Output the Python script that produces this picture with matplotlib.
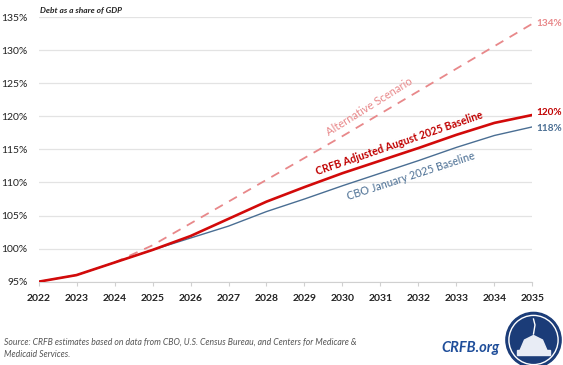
import matplotlib.pyplot as plt
from matplotlib.patches import Circle, Polygon, Rectangle

plt.rcParams['font.family'] = ['Lato', 'DejaVu Sans']

# --- data ---
years = [2022, 2023, 2024, 2025, 2026, 2027, 2028, 2029, 2030, 2031, 2032, 2033, 2034, 2035]
crfb_adjusted = [95.0, 96.0, 97.9, 99.8, 101.9, 104.5, 107.1, 109.3, 111.4, 113.3, 115.2, 117.2, 119.0, 120.2]
cbo_jan_2025 = [95.0, 96.0, 97.9, 99.8, 101.6, 103.4, 105.6, 107.5, 109.5, 111.4, 113.3, 115.3, 117.1, 118.4]
alt_years = [2024, 2025, 2026, 2027, 2028, 2029, 2030, 2031, 2032, 2033, 2034, 2035]
alternative = [97.9, 100.5, 103.8, 107.1, 110.4, 113.7, 117.0, 120.4, 123.8, 127.2, 130.6, 134.0]
y_ticks = [95, 100, 105, 110, 115, 120, 125, 130, 135]

RED = '#D20A0A'
PINK = '#E8888A'
BLUE = '#4A6E93'
TXT = '#222222'

fig = plt.figure(figsize=(5.63, 3.65), dpi=100)
ax = fig.add_axes([0.0684, 0.2282, 0.8774, 0.7252])

ax.plot(alt_years, alternative, color=PINK, lw=1.3, dashes=(5, 4), zorder=2)
ax.plot(years, cbo_jan_2025, color=BLUE, lw=1.0, zorder=3)
ax.plot(years, crfb_adjusted, color=RED, lw=1.9, zorder=4)

ax.set_xlim(2022, 2035)
ax.set_ylim(95, 135)
ax.set_xticks(years)
ax.set_xticklabels([str(y) for y in years], fontsize=7.5, fontweight='bold', color=TXT)
ax.set_yticks(y_ticks)
ax.set_yticklabels([f'{v}%' for v in y_ticks], fontsize=7.5, color=TXT)
ax.tick_params(axis='y', length=0, pad=8)
ax.tick_params(axis='x', length=3, color='#d0d0d0', pad=6)
ax.grid(axis='y', color='#e3e3e3', lw=0.9)
ax.set_axisbelow(True)
for side in ['top', 'right', 'left']:
    ax.spines[side].set_visible(False)
ax.spines['bottom'].set_color('#d0d0d0')

ax.text(2022.05, 135.4, 'Debt as a share of GDP', fontsize=6, style='italic',
        fontweight='bold', color=TXT, va='bottom')

# series labels along the lines
ax.text(2030.7, 121.4, 'Alternative Scenario', color=PINK, fontsize=8,
        rotation=32, ha='center', va='center')
ax.text(2031.5, 115.9, 'CRFB Adjusted August 2025 Baseline', color='#C00000', fontsize=7.6,
        fontweight='bold', rotation=19, ha='center', va='center')
ax.text(2031.8, 110.9, 'CBO January 2025 Baseline', color=BLUE, fontsize=7.8,
        rotation=18, ha='center', va='center')

# end labels
ax.text(2035.1, alternative[-1], f'{alternative[-1]:.0f}%', color=PINK, fontsize=7.2,
        fontweight='bold', va='center', clip_on=False)
ax.text(2035.1, crfb_adjusted[-1] + 0.3, f'{crfb_adjusted[-1]:.0f}%', color='#C00000', fontsize=7.2,
        fontweight='bold', va='center', clip_on=False)
ax.text(2035.1, cbo_jan_2025[-1] - 0.3, f'{cbo_jan_2025[-1]:.0f}%', color=BLUE, fontsize=7.2,
        fontweight='bold', va='center', clip_on=False)

# footer
fig.text(0.007, 0.045, 'Source: CRFB estimates based on data from CBO, U.S. Census Bureau, and Centers for Medicare &\nMedicaid Services.',
         fontsize=6.2, style='italic', color='#555555', va='center', linespacing=1.45)
fig.text(0.888, 0.047, 'CRFB.org', fontsize=10.5, fontweight='bold', style='italic',
         color='#1F4E9A', ha='right', va='center')

# logo
lx = fig.add_axes([0.8943, -0.0137, 0.1066, 0.1644])
lx.set_xlim(-1, 1)
lx.set_ylim(-1, 1)
lx.axis('off')
lx.add_patch(Circle((0, 0), 0.92, color='#1B3C78'))
lx.add_patch(Circle((0, 0), 0.82, fill=False, ec='white', lw=1.0))
lx.add_patch(Polygon([[-0.45, -0.35], [-0.3, 0.0], [0.0, 0.15], [0.3, 0.0], [0.45, -0.35]],
                     closed=True, color='#e8ecf5'))
lx.add_patch(Rectangle((-0.55, -0.5), 1.1, 0.18, color='#e8ecf5'))
lx.plot([0, 0.05, 0.0], [0.2, 0.5, 0.7], color='white', lw=1.0)

fig.savefig('out.png', dpi=100)
